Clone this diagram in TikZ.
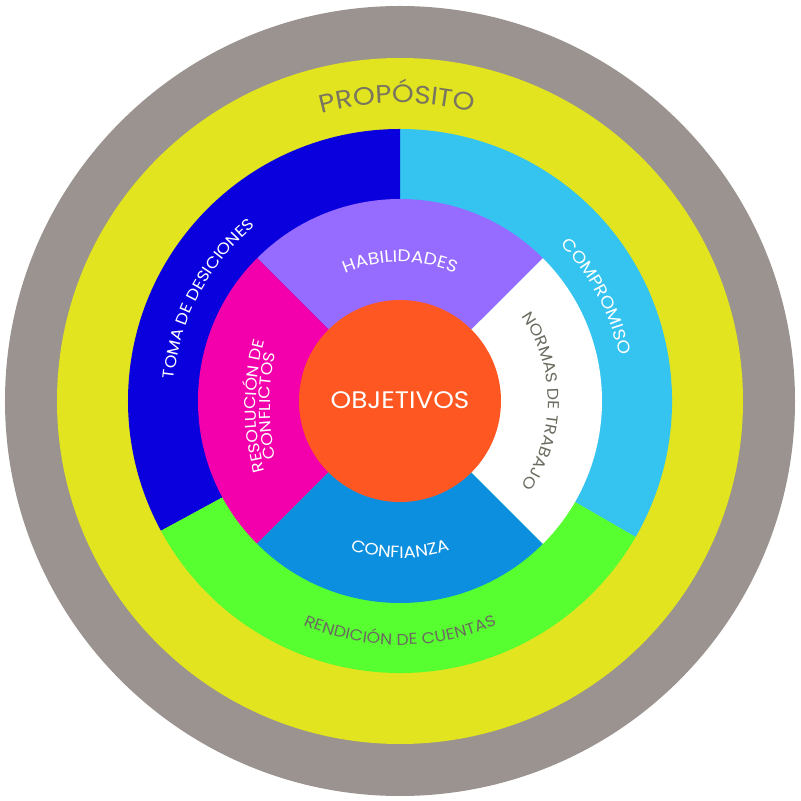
\documentclass[tikz,border=0pt]{standalone}
\usepackage{fontspec}
\setmainfont{Poppins}[FakeStretch=1.1]
\usetikzlibrary{calc}
\usetikzlibrary{decorations.text}
\definecolor{gris}{HTML}{9A9390}
\definecolor{amarillo}{HTML}{E1E41E}
\definecolor{azul}{HTML}{0A00DE}
\definecolor{celeste}{HTML}{35C4F0}
\definecolor{verde}{HTML}{57FF30}
\definecolor{lila}{HTML}{966BFF}
\definecolor{fucsia}{HTML}{F300AC}
\definecolor{azulclaro}{HTML}{0D8FE0}
\definecolor{naranja}{HTML}{FF5722}
\definecolor{textogris}{HTML}{6B6B60}
\definecolor{textoocre}{HTML}{7A7560}
\tikzset{
  ringtext/.style n args={3}{decorate, decoration={text along path, text align=center,
      text color=#1, text={|\fontsize{#2}{#2}\selectfont|#3}}}
}

\begin{document}
\begin{tikzpicture}[x=0.025cm,y=0.025cm]
        \useasboundingbox (-400,-400) rectangle (401,401);
        \coordinate (o) at (0,0);
        \fill[gris] (o) circle (395);
        \fill[amarillo] (o) circle (343);
        \fill[celeste] (o) -- (-30:272) arc[start angle=-30, end angle=90, radius=272] -- cycle;
        \fill[azul] (o) -- (90:272) arc[start angle=90, end angle=208.5, radius=272] -- cycle;
        \fill[verde] (o) -- (208.5:272) arc[start angle=208.5, end angle=330, radius=272] -- cycle;
        \fill[lila] (o) -- (45:202) arc[start angle=45, end angle=135, radius=202] -- cycle;
        \fill[fucsia] (o) -- (135:202) arc[start angle=135, end angle=225, radius=202] -- cycle;
        \fill[azulclaro] (o) -- (225:202) arc[start angle=225, end angle=315, radius=202] -- cycle;
        \fill[white] (o) -- (-45:202) arc[start angle=-45, end angle=45, radius=202] -- cycle;
        \fill[naranja] (o) circle (101);
        \node[text=white, font=\fontsize{17}{20}\selectfont] (obj) at (0,1) {OBJETIVOS};
        \path[ringtext={textoocre}{18}{PROPÓSITO}] (125:298) arc[start angle=125, end angle=56, radius=298];
        \path[ringtext={white}{11.2}{TOMA DE DESICIONES}] (195:227) arc[start angle=195, end angle=109, radius=227];
        \path[ringtext={white}{12}{COMPROMISO}] (60:224) arc[start angle=60, end angle=-4, radius=224];
        \path[ringtext={textogris}{11.2}{RENDICIÓN DE CUENTAS}] (230:244) arc[start angle=230, end angle=310, radius=244];
        \path[ringtext={white}{12}{HABILIDADES}] (130:139) arc[start angle=130, end angle=50, radius=139];
        \path[ringtext={white}{11.7}{CONFIANZA}] (235:157) arc[start angle=235, end angle=305, radius=157];
        \path[ringtext={textogris}{11.2}{NORMAS DE TRABAJO}] (50:148) arc[start angle=50, end angle=-50, radius=148];
        \coordinate (rc) at (106,-5);
        \path[ringtext={white}{11.2}{RESOLUCIÓN DE}] ($(rc)+(200:250)$) arc[start angle=200, end angle=160, radius=250];
        \path[ringtext={white}{11.2}{CONFLICTOS}] ($(rc)+(200:236)$) arc[start angle=200, end angle=160, radius=236];
    \end{tikzpicture}
\end{document}
